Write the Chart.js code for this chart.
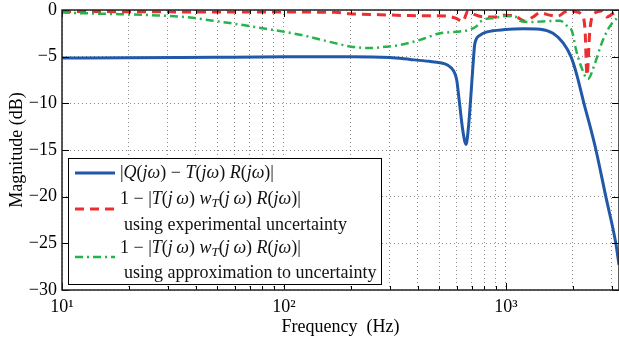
<!DOCTYPE html>
<html>
<head>
<meta charset="utf-8">
<script src="https://cdn.jsdelivr.net/npm/chart.js@4/dist/chart.umd.min.js"></script>
<style>
  html, body { margin: 0; padding: 0; background: #fff; }
</style>
</head>
<body>
<canvas id="mag" width="619" height="340"></canvas>
<script>
// magnitude curves (dB), frequency in Hz
const freqQ = [10, 20, 50, 100, 200, 300, 370, 450, 505, 545, 580, 600, 615, 640, 661, 678, 693, 710, 724, 764, 821, 989, 1200, 1422, 1628, 1806, 1963, 2088, 2245, 2389, 2543, 2818, 3125, 3230];
const magQ  = [-5.15, -5.12, -5.06, -5.02, -5.0, -5.1, -5.3, -5.5, -5.65, -5.9, -6.5, -7.5, -9.6, -13.0, -14.4, -12.5, -9.6, -6.0, -3.6, -2.7, -2.35, -2.1, -2.02, -2.07, -2.5, -3.5, -5.0, -7.0, -10, -12.4, -15, -20, -25, -27.3];

const freqExp = [10, 30, 100, 170, 198, 270, 370, 531, 589, 640, 674, 724, 804, 892, 989, 1098, 1218, 1323, 1422, 1578, 1713, 1845, 1943, 2066, 2200, 2270, 2317, 2389, 2518, 2705, 2849, 3033, 3230];
const magExp  = [-0.15, -0.2, -0.22, -0.25, -0.4, -0.5, -0.6, -0.65, -0.85, -1.2, -0.1, -0.5, -0.75, -0.75, -0.55, -0.65, -1.2, -0.75, -0.3, -0.55, -0.65, -0.2, -0.05, -0.2, -0.55, -2.1, -7.0, -2.1, -0.3, -0.1, -0.75, -0.4, -0.2];

const freqApprox = [10, 14, 16.4, 25, 37.7, 47.9, 57, 80, 118, 170, 198, 244, 285, 333, 410, 505, 621, 689, 740, 764, 804, 892, 989, 1098, 1156, 1282, 1500, 1752, 1883, 1985, 2066, 2177, 2339, 2518, 2705, 2878, 3033, 3230];
const magApprox  = [-0.28, -0.38, -0.42, -0.55, -0.8, -1.15, -1.4, -1.95, -2.65, -3.55, -3.9, -4.07, -3.95, -3.75, -3.2, -2.5, -2.3, -2.1, -1.7, -1.3, -1.0, -0.85, -0.65, -0.7, -1.15, -1.3, -1.2, -1.15, -1.7, -2.3, -4.2, -6.0, -7.4, -5.7, -3.5, -2.1, -1.3, -0.7];

const xTickValues = [10, 100, 1000];
const xTickLabels = ['10\u00b9', '10\u00b2', '10\u00b3'];

const SERIF = 'Liberation Serif';
Chart.defaults.font.family = SERIF;
Chart.defaults.font.size = 18;
Chart.defaults.color = '#000';

function pts(xs, ys) {
  return xs.map((x, i) => ({ x: x, y: ys[i] }));
}

// legend rows: [text, style]  n = normal, i = italic, s = italic subscript
const legendRows = [
  { y: 173, x: 120, segs: [['|', 'n'], ['Q', 'i'], ['(', 'n'], ['jω', 'i'], [') − ', 'n'], ['T', 'i'], ['(', 'n'], ['jω', 'i'], [') ', 'n'], ['R', 'i'], ['(', 'n'], ['jω', 'i'], [')|', 'n']] },
  { y: 199, x: 120, segs: [['1 − |', 'n'], ['T', 'i'], ['(', 'n'], ['j\u2009ω', 'i'], [') ', 'n'], ['w', 'i'], ['T', 's'], ['(', 'n'], ['j\u2009ω', 'i'], [') ', 'n'], ['R', 'i'], ['(', 'n'], ['jω', 'i'], [')|', 'n']] },
  { y: 225, x: 124, segs: [['using experimental uncertainty', 'n']] },
  { y: 248, x: 120, segs: [['1 − |', 'n'], ['T', 'i'], ['(', 'n'], ['j\u2009ω', 'i'], [') ', 'n'], ['w', 'i'], ['T', 's'], ['(', 'n'], ['j\u2009ω', 'i'], [') ', 'n'], ['R', 'i'], ['(', 'n'], ['jω', 'i'], [')|', 'n']] },
  { y: 273, x: 124, segs: [['using approximation to uncertainty', 'n']] }
];

const legendSamples = [
  { y: 173, color: '#2158a8', dash: [], width: 3 },
  { y: 209, color: '#ee2e2e', dash: [9, 6], width: 3 },
  { y: 257, color: '#27b34b', dash: [8, 4, 2, 4], width: 2.5 }
];

const frameAndLegend = {
  id: 'frameAndLegend',
  afterDraw(chart) {
    const ctx = chart.ctx;
    const a = chart.chartArea;
    const xs = chart.scales.x, ys = chart.scales.y;
    ctx.save();
    // inward tick marks
    ctx.strokeStyle = '#000';
    ctx.lineWidth = 1;
    ctx.setLineDash([]);
    xs.ticks.forEach(t => {
      const px = Math.round(xs.getPixelForValue(t.value)) + 0.5;
      const len = xTickValues.includes(t.value) ? 7 : 4;
      ctx.beginPath();
      ctx.moveTo(px, a.bottom); ctx.lineTo(px, a.bottom - len);
      ctx.moveTo(px, a.top); ctx.lineTo(px, a.top + len);
      ctx.stroke();
    });
    ys.ticks.forEach(t => {
      const py = Math.round(ys.getPixelForValue(t.value)) + 0.5;
      ctx.beginPath();
      ctx.moveTo(a.left, py); ctx.lineTo(a.left + 7, py);
      ctx.moveTo(a.right, py); ctx.lineTo(a.right - 7, py);
      ctx.stroke();
    });
    // axis frame
    ctx.lineWidth = 1.5;
    ctx.strokeStyle = '#222';
    ctx.strokeRect(a.left, a.top, a.right - a.left, a.bottom - a.top);

    // legend box
    ctx.fillStyle = '#fff';
    ctx.fillRect(68, 158, 313, 126);
    ctx.lineWidth = 1;
    ctx.strokeStyle = '#000';
    ctx.strokeRect(68.5, 158.5, 313, 126);

    legendSamples.forEach(s => {
      ctx.beginPath();
      ctx.setLineDash(s.dash);
      ctx.strokeStyle = s.color;
      ctx.lineWidth = s.width;
      ctx.moveTo(75, s.y); ctx.lineTo(115, s.y);
      ctx.stroke();
    });
    ctx.setLineDash([]);

    ctx.fillStyle = '#111';
    ctx.textBaseline = 'middle';
    ctx.textAlign = 'left';
    legendRows.forEach(row => {
      let x = row.x;
      row.segs.forEach(([txt, st]) => {
        let dy = 0;
        if (st === 'i') ctx.font = 'italic 18px "' + SERIF + '"';
        else if (st === 's') { ctx.font = 'italic 13px "' + SERIF + '"'; dy = 5; }
        else ctx.font = '18px "' + SERIF + '"';
        ctx.fillText(txt, x, row.y + dy);
        x += ctx.measureText(txt).width;
      });
    });
    ctx.restore();
  }
};

new Chart(document.getElementById('mag'), {
  type: 'line',
  data: {
    datasets: [
      {
        label: '|Q(jω) − T(jω) R(jω)|',
        data: pts(freqQ, magQ),
        borderColor: '#2158a8',
        borderWidth: 3,
        order: 3
      },
      {
        label: 'experimental uncertainty',
        data: pts(freqExp, magExp),
        borderColor: '#ee2e2e',
        borderWidth: 3,
        borderDash: [9, 6],
        order: 2
      },
      {
        label: 'approximation to uncertainty',
        data: pts(freqApprox, magApprox),
        borderColor: '#27b34b',
        borderWidth: 2.5,
        borderDash: [8, 4, 2, 4],
        order: 1
      }
    ]
  },
  options: {
    responsive: false,
    animation: false,
    layout: { padding: { top: 10, right: 0, left: 0, bottom: 0 } },
    elements: {
      point: { radius: 0 },
      line: { fill: false, cubicInterpolationMode: 'monotone' }
    },
    plugins: {
      legend: { display: false },
      tooltip: { enabled: false }
    },
    scales: {
      x: {
        type: 'logarithmic',
        min: 10,
        max: 3230,
        afterBuildTicks(scale) {
          const ticks = [];
          for (let d = 10; d <= 1000; d *= 10) {
            for (let m = 1; m <= 9; m++) {
              if (m * d <= scale.max) ticks.push({ value: m * d });
            }
          }
          scale.ticks = ticks;
        },
        afterFit(scale) {
          scale.height = 50;
          scale.paddingLeft = 0;
          scale.paddingRight = 0;
        },
        ticks: {
          autoSkip: false,
          maxRotation: 0,
          padding: 6,
          color: '#000',
          font: { family: SERIF, size: 18 },
          callback(value) {
            const k = xTickValues.indexOf(value);
            return k >= 0 ? xTickLabels[k] : '';
          }
        },
        grid: { color: 'rgba(0,0,0,0.45)', lineWidth: 1, drawTicks: false },
        border: { display: false, dash: [1, 3] },
        title: {
          display: true,
          text: 'Frequency  (Hz)',
          color: '#000',
          font: { family: SERIF, size: 18 },
          padding: { top: 0, bottom: 2 }
        }
      },
      y: {
        min: -30,
        max: 0,
        afterFit(scale) {
          scale.width = 62;
          scale.paddingTop = 0;
          scale.paddingBottom = 0;
        },
        ticks: {
          stepSize: 5,
          padding: 5,
          color: '#000',
          font: { family: SERIF, size: 18 },
          callback(value) { return String(value).replace('-', '\u2212'); }
        },
        grid: { color: 'rgba(0,0,0,0.45)', lineWidth: 1, drawTicks: false },
        border: { display: false, dash: [1, 3] },
        title: {
          display: true,
          text: 'Magnitude (dB)',
          color: '#000',
          font: { family: SERIF, size: 18 },
          padding: { top: 6, bottom: 0 }
        }
      }
    }
  },
  plugins: [frameAndLegend]
});
</script>
</body>
</html>
